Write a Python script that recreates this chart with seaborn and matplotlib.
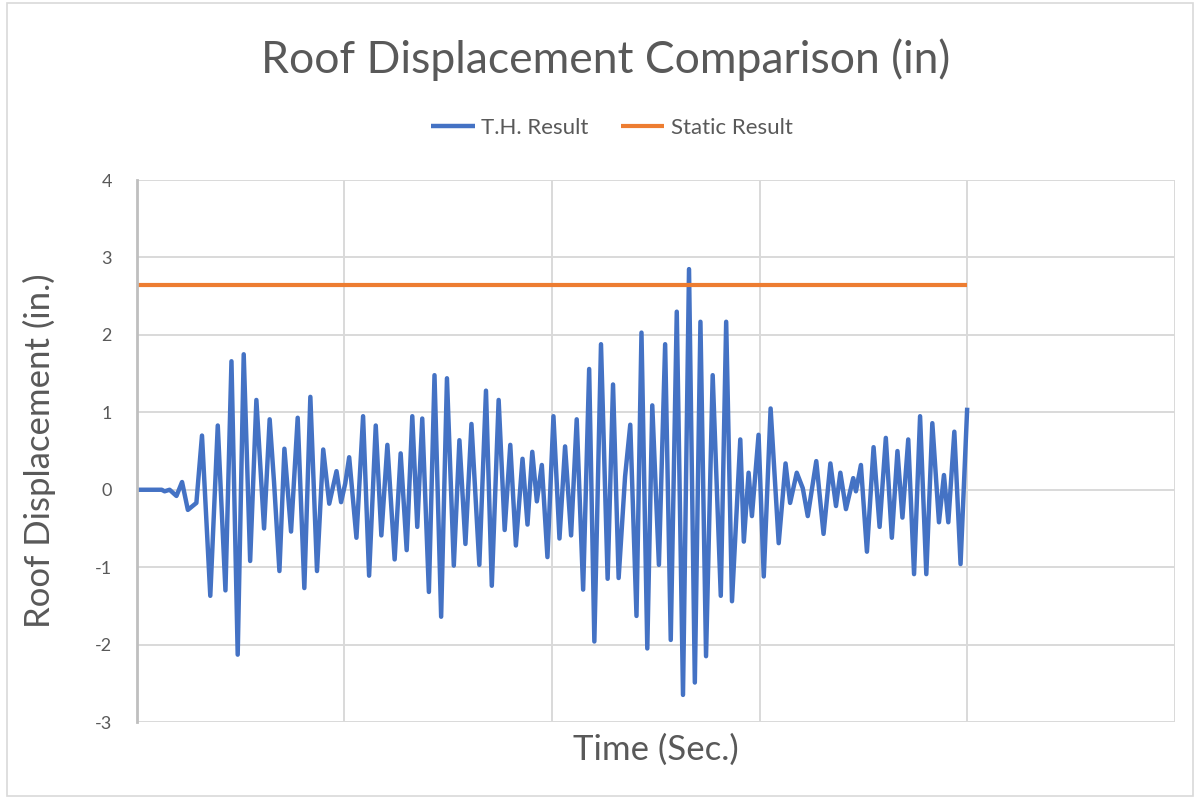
import numpy as np
import pandas as pd
import matplotlib
matplotlib.use("Agg")
import matplotlib.pyplot as plt
import seaborn as sns

# time history peaks/troughs (time in sec, displacement in in.)
time = [0.00, 1.20, 1.34, 1.58, 1.91, 2.18, 2.46, 2.87, 3.14, 3.54, 3.90, 4.27, 4.56, 4.86,
        5.15, 5.46, 5.76, 6.13, 6.40, 6.61, 6.87, 7.11, 7.43, 7.75, 8.07, 8.36, 8.68, 8.98,
        9.27, 9.62, 9.84, 10.04, 10.23, 10.58, 10.90, 11.19, 11.51, 11.78, 12.07, 12.42,
        12.71, 13.00, 13.27, 13.51, 13.75, 14.07, 14.34, 14.66, 14.94, 15.27, 15.54, 15.83,
        16.12, 16.50, 16.82, 17.10, 17.43, 17.72, 17.99, 18.26, 18.58, 18.82, 19.05, 19.27,
        19.51, 19.78, 20.07, 20.36, 20.63, 20.92, 21.19, 21.50, 21.79, 22.04, 22.36, 22.68,
        22.94, 23.21, 23.52, 23.77, 24.07, 24.31, 24.59, 24.83, 25.15, 25.45, 25.72, 26.01,
        26.31, 26.60, 26.88, 27.15, 27.42, 27.74, 28.13, 28.39, 28.67, 29.07, 29.24, 29.47,
        29.63, 29.95, 30.20, 30.53, 30.92, 31.25, 31.47, 31.79, 32.08, 32.32, 32.73, 33.08,
        33.41, 33.68, 33.89, 34.16, 34.51, 34.64, 34.88, 35.17, 35.49, 35.78, 36.08, 36.37,
        36.64, 36.88, 37.16, 37.44, 37.73, 38.03, 38.32, 38.64, 38.88, 39.09, 39.38, 39.68,
        40.00]
th_disp = [0.00, 0.00, -0.02, 0.00, -0.08, 0.10, -0.26, -0.17, 0.70, -1.37, 0.83, -1.30, 1.66,
           -2.13, 1.75, -0.92, 1.16, -0.50, 0.91, 0.10, -1.05, 0.53, -0.54, 0.93, -1.27, 1.20,
           -1.05, 0.52, -0.18, 0.24, -0.16, 0.08, 0.42, -0.62, 0.95, -1.11, 0.83, -0.59, 0.58,
           -0.90, 0.47, -0.78, 0.95, -0.48, 0.92, -1.32, 1.48, -1.64, 1.44, -0.98, 0.64, -0.70,
           0.85, -0.97, 1.28, -1.24, 1.16, -0.52, 0.58, -0.72, 0.40, -0.45, 0.49, -0.15, 0.32,
           -0.87, 0.95, -0.63, 0.56, -0.59, 0.91, -1.29, 1.56, -1.96, 1.88, -1.15, 1.36, -1.14,
           0.17, 0.84, -1.63, 2.03, -2.05, 1.09, -0.97, 1.88, -1.94, 2.30, -2.65, 2.85, -2.49,
           2.17, -2.15, 1.48, -1.37, 2.17, -1.44, 0.65, -0.67, 0.22, -0.34, 0.71, -1.12, 1.05,
           -0.69, 0.34, -0.17, 0.22, 0.02, -0.34, 0.37, -0.57, 0.34, -0.21, 0.22, -0.25, 0.15,
           -0.02, 0.32, -0.80, 0.55, -0.48, 0.67, -0.62, 0.50, -0.36, 0.65, -1.09, 0.95, -1.09,
           0.86, -0.42, 0.19, -0.42, 0.75, -0.96, 1.06]

static_time = [0, 40]
static_disp = [2.64, 2.64]

yticks = [-3, -2, -1, 0, 1, 2, 3, 4]
xgrid = [0, 10, 20, 30, 40, 50]

sns.set_theme(style="white")
plt.rcParams['font.family'] = ['Lato', 'DejaVu Sans']
gray = '#595959'

fig = plt.figure(figsize=(12, 8.01), dpi=100)
ax = fig.add_axes([0.114, 0.0986, 0.865, 0.6766])

sns.lineplot(x=time, y=th_disp, ax=ax, color='#4472C4', linewidth=3.2,
             label='T.H. Result', sort=False)
sns.lineplot(x=static_time, y=static_disp, ax=ax, color='#ED7D31', linewidth=3,
             label='Static Result')
for ln in ax.lines:
    ln.set_solid_joinstyle('round')
    ln.set_solid_capstyle('butt')

ax.set_xlim(0, 50)
ax.set_ylim(-3, 4)
ax.set_yticks(yticks)
ax.set_yticklabels([str(v) for v in yticks], fontsize=13, color=gray)
ax.set_xticks(xgrid)
ax.set_xticklabels([])
ax.tick_params(axis='both', length=0, pad=18)
ax.grid(True, color='#d9d9d9', linewidth=1.4)
ax.set_axisbelow(True)
for s in ['top', 'right', 'bottom']:
    ax.spines[s].set_visible(False)
ax.spines['left'].set_color('#bfbfbf')
ax.spines['left'].set_linewidth(2)

ax.set_xlabel('Time (Sec.)', fontsize=25, color=gray, va='center')
ax.xaxis.set_label_coords(0.5, -0.052)
ax.set_ylabel('Roof Displacement (in.)', fontsize=25, color=gray, va='center')
ax.yaxis.set_label_coords(-0.0935, 0.5)

fig.text(0.505, 0.925, 'Roof Displacement Comparison (in)', ha='center', va='center',
         fontsize=32, color=gray)

ax.get_legend().remove()
fig.legend(loc='center', bbox_to_anchor=(0.51, 0.84), ncol=2, frameon=False, fontsize=16,
           handlelength=1.95, columnspacing=1.45, handletextpad=0.3, labelcolor=gray)

fig.patches.append(plt.Rectangle((0.006, 0.006), 0.988, 0.99, transform=fig.transFigure,
                                 fill=False, edgecolor='#d9d9d9', linewidth=1.2))

fig.savefig('out.png', dpi=100, facecolor='white')
